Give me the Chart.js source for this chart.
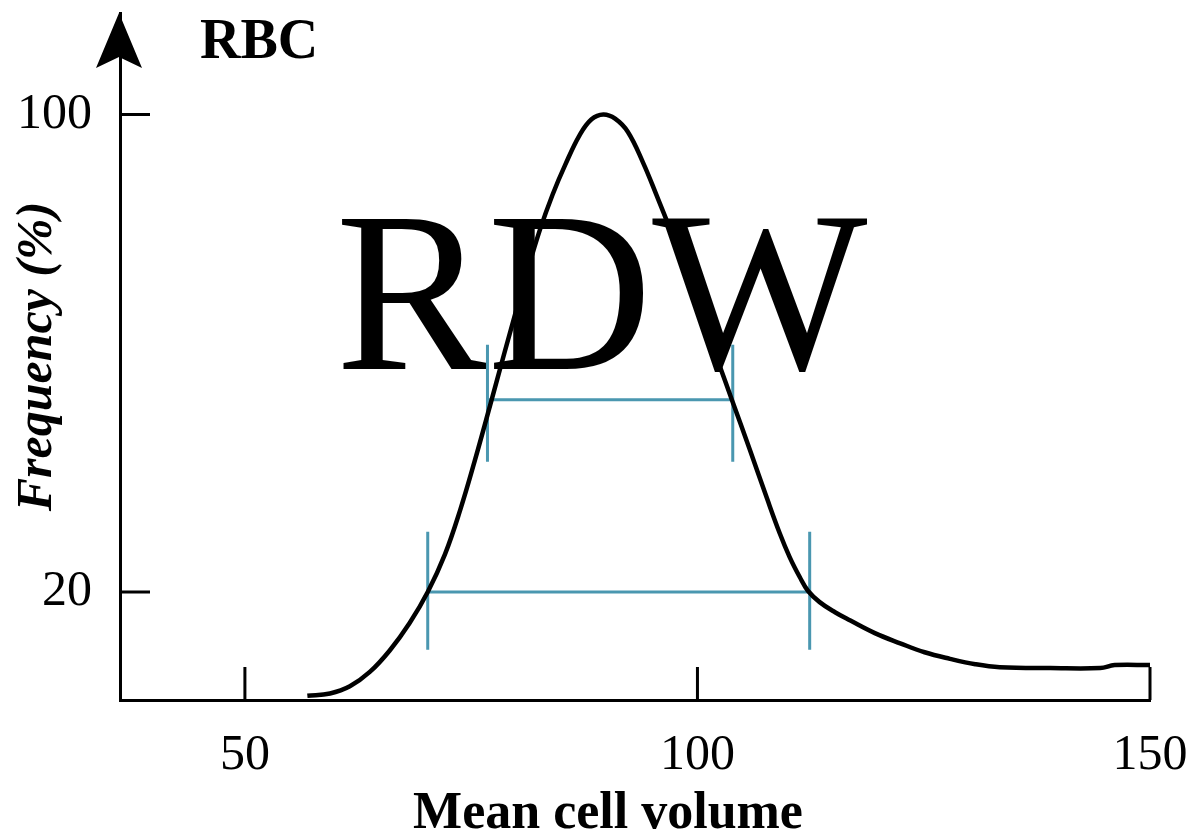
<!DOCTYPE html>
<html>
<head>
<meta charset="utf-8">
<title>RDW</title>
<script src="https://cdn.jsdelivr.net/npm/chart.js@4.4.1/dist/chart.umd.min.js"></script>
<style>
  html, body { margin: 0; padding: 0; background: #fff; }
  #wrap { width: 1194px; height: 834px; }
</style>
</head>
<body>
<div id="wrap"><canvas id="rdwChart"></canvas></div>
<script>
// =================== DATA ===================
// RBC volume distribution curve
const mcv = [
  56.9, 59.4, 61.6, 63.8, 66.0, 68.2, 70.2, 72.1, 73.8, 75.4, 77.1, 78.7, 81.2, 82.6, 84.0, 85.4, 87.0, 88.3, 89.6,
  90.9, 92.3, 94.0, 95.5, 97.0, 98.6, 100.3, 102.5, 103.8, 105.8, 107.7, 109.1, 110.2, 111.3, 112.2,
  113.5, 115.2, 116.9, 119.6, 122.4, 125.1, 127.9, 130.7, 133.4, 139.0, 144.5, 146.1, 150
];
const freq = [
  2.6, 3.0, 4.2, 6.6, 10.2, 14.8, 20, 26.3, 33.8, 42.0, 51.3, 60.2, 73.7, 80.7, 86.6, 91.6, 96.6, 99.2, 100,
  99.3, 97.1, 91.9, 86.4, 80.7, 74.2, 67.0, 57.7, 52.2, 43.8, 35.6, 29.8, 25.8, 22.5, 20.2,
  18.3, 16.6, 15.2, 13.1, 11.4, 9.9, 8.8, 7.9, 7.4, 7.25, 7.25, 7.75, 7.75
];

// RDW width bars (upper and lower)
const barLevel  = [52.2, 20];
const barLeft   = [76.8, 70.2];
const barRight  = [103.9, 112.4];
const capTop    = [61.4, 30.1];
const capBottom = [41.8, 10.3];

// axis ticks
const xTicks = [50, 100, 150];
const yTicks = [20, 100];

// =================== HELPERS ===================
const SERIF = '"Liberation Serif", "DejaVu Serif", serif';
const curvePoints = mcv.map((v, i) => ({ x: v, y: freq[i] }));

function buildBars() {
  const pts = [];
  barLevel.forEach((lvl, i) => {
    const l = barLeft[i], r = barRight[i];
    pts.push({ x: l, y: lvl }, { x: r, y: lvl }, { x: r, y: null });
    pts.push({ x: l, y: capTop[i] }, { x: l, y: capBottom[i] }, { x: l, y: null });
    pts.push({ x: r, y: capTop[i] }, { x: r, y: capBottom[i] }, { x: r, y: null });
  });
  return pts;
}

// texts, inward ticks and the y-axis arrow
const decorPlugin = {
  id: "decor",
  beforeDatasetsDraw(chart) {
    const { ctx, scales: { x, y } } = chart;
    ctx.save();
    ctx.fillStyle = "#000";
    ctx.font = `228px ${SERIF}`;
    ctx.textAlign = "center";
    ctx.textBaseline = "alphabetic";
    ctx.fillText("RDW", x.getPixelForValue(89.4), y.getPixelForValue(57.4));
    ctx.restore();
  },
  afterDraw(chart) {
    const { ctx, chartArea, scales: { x, y } } = chart;
    ctx.save();
    ctx.strokeStyle = "#000";
    ctx.lineWidth = 3;

    // ticks point into the plot
    ctx.beginPath();
    xTicks.forEach(v => {
      const px = x.getPixelForValue(v);
      ctx.moveTo(px, chartArea.bottom);
      ctx.lineTo(px, chartArea.bottom - 33);
    });
    yTicks.forEach(v => {
      const py = y.getPixelForValue(v);
      ctx.moveTo(chartArea.left, py);
      ctx.lineTo(chartArea.left + 30, py);
    });
    ctx.stroke();

    // arrow head on top of the y axis
    const ax = chartArea.left - 1, ay = chartArea.top;
    ctx.fillStyle = "#000";
    ctx.beginPath();
    ctx.moveTo(ax, ay);
    ctx.lineTo(ax + 23, ay + 55);
    ctx.lineTo(ax, ay + 44);
    ctx.lineTo(ax - 23, ay + 55);
    ctx.closePath();
    ctx.fill();

    ctx.textBaseline = "alphabetic";
    ctx.font = `bold 56px ${SERIF}`;
    ctx.textAlign = "left";
    ctx.fillText("RBC", 200, 58);

    ctx.font = `bold 52px ${SERIF}`;
    ctx.textAlign = "center";
    ctx.fillText("Mean cell volume", 608, 828);
    ctx.restore();
  }
};

// =================== CHART ===================
Chart.defaults.font.family = SERIF;
Chart.defaults.color = "#000";

const ctx = document.getElementById("rdwChart").getContext("2d");
const rdwChart = new Chart(ctx, {
  type: "line",
  data: {
    datasets: [
      {
        label: "RDW bars",
        data: buildBars(),
        borderColor: "#4a97b0",
        borderWidth: 3,
        pointRadius: 0,
        tension: 0,
        spanGaps: false,
        fill: false,
        order: 2
      },
      {
        label: "RBC",
        data: curvePoints,
        borderColor: "#000",
        borderWidth: 4.5,
        pointRadius: 0,
        tension: 0.4,
        fill: false,
        order: 1
      }
    ]
  },
  options: {
    responsive: true,
    maintainAspectRatio: false,
    devicePixelRatio: 1,
    animation: false,
    layout: { padding: { top: 13, right: 44, left: 0, bottom: 0 } },
    plugins: { legend: { display: false }, tooltip: { enabled: false } },
    scales: {
      x: {
        type: "linear",
        min: 36.2,
        max: 150,
        afterBuildTicks: s => { s.ticks = xTicks.map(v => ({ value: v })); },
        afterFit: s => { s.height = 134; s.paddingLeft = 0; s.paddingRight = 0; },
        grid: { display: false, drawTicks: false },
        border: { display: true, color: "#000", width: 3 },
        ticks: { font: { size: 50 }, color: "#000", padding: 26, autoSkip: false, maxRotation: 0 }
      },
      y: {
        type: "linear",
        min: 1.9,
        max: 117,
        afterBuildTicks: s => { s.ticks = yTicks.map(v => ({ value: v })); },
        afterFit: s => { s.width = 120; s.paddingTop = 0; s.paddingBottom = 0; },
        grid: { display: false, drawTicks: false },
        border: { display: true, color: "#000", width: 3 },
        ticks: { font: { size: 50 }, color: "#000", padding: 28, autoSkip: false },
        title: {
          display: true,
          text: "Frequency (%)",
          color: "#000",
          font: { size: 50, weight: "bold", style: "italic" },
          padding: { top: 8, bottom: 0 }
        }
      }
    }
  },
  plugins: [decorPlugin]
});
</script>
</body>
</html>
